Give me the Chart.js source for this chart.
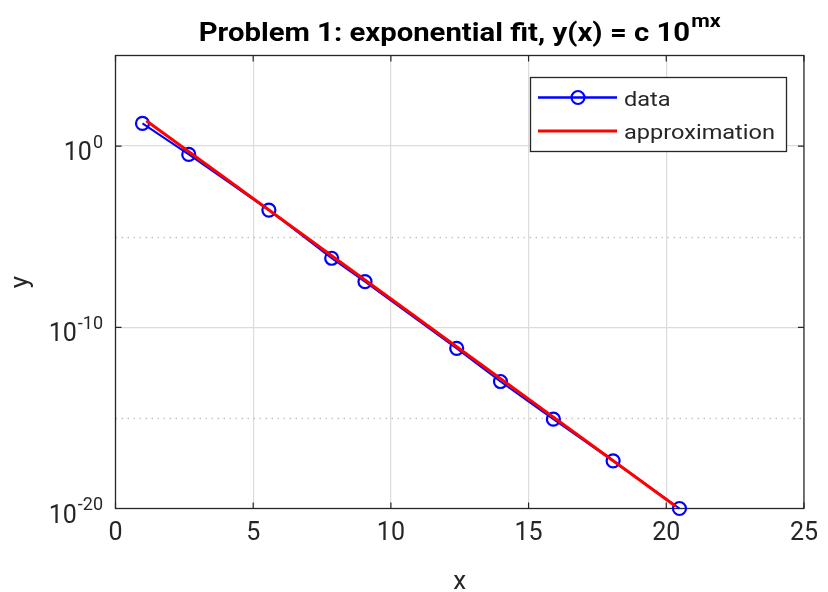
<!DOCTYPE html>
<html>
<head>
<meta charset="utf-8">
<script src="https://cdn.jsdelivr.net/npm/chart.js@4.4.1/dist/chart.umd.min.js"></script>
<style>
body{ margin:0; background:#ffffff; }
</style>
</head>
<body>
<canvas id="graficoAjuste" width="828" height="592"></canvas>
<script>

// datos medidos
const xDatos =
[0.98, 2.66, 5.57, 7.85, 9.06, 12.39, 13.98, 15.90, 18.07, 20.48];

const yDatos =
[17.8, 0.347, 2.95e-4, 6.46e-7, 3.31e-8, 6.92e-12, 1.02e-13, 8.51e-16, 4.27e-18, 1.0e-20];

// recta ajustada (en escala log)
const xAprox =
[1.12, 20.33];

const yAprox =
[25.1, 1.38e-20];

const xTicks =
[0, 5, 10, 15, 20, 25];

// exponentes de las marcas del eje y
const yExpMayores =
[-20, -10, 0];

const yExpMenores =
[-15, -5];

const yExpLimites =
[-20, 5];

const tituloTexto =
"Problem 1: exponential fit, y(x) = c 10";

const tituloSup =
"mx";

const nombres =
["data", "approximation"];

const GRIS = "#262626";

function puntos(xs, ys){
    return xs.map(
        (x, i) => ({ x: x, y: ys[i] })
    );
}

// texto ensanchado horizontalmente
function textoAncho(ctx, texto, x, y, escala){
    ctx.save();
    ctx.translate(x, y);
    ctx.scale(escala, 1);
    ctx.fillText(texto, 0, 0);
    ctx.restore();
}

const dibujoExtra = {

    id: "dibujoExtra",

    beforeDatasetsDraw(chart){

        const ctx = chart.ctx;
        const area = chart.chartArea;
        const ejeX = chart.scales.x;
        const ejeY = chart.scales.y;

        ctx.save();

        // rejilla menor punteada
        ctx.strokeStyle = "#c4c4c4";
        ctx.lineWidth = 1.5;
        ctx.setLineDash([1.5, 4.5]);
        yExpMenores.forEach(e => {
            const py = Math.round(ejeY.getPixelForValue(Math.pow(10, e))) + 0.5;
            ctx.beginPath();
            ctx.moveTo(area.left, py);
            ctx.lineTo(area.right, py);
            ctx.stroke();
        });
        ctx.setLineDash([]);

        // caja de los ejes
        ctx.strokeStyle = GRIS;
        ctx.lineWidth = 1.3;
        ctx.strokeRect(area.left, area.top, area.right - area.left, area.bottom - area.top);

        // marcas hacia dentro
        ctx.lineWidth = 1.2;
        xTicks.forEach(v => {
            const px = ejeX.getPixelForValue(v);
            ctx.beginPath();
            ctx.moveTo(px, area.bottom);
            ctx.lineTo(px, area.bottom - 6);
            ctx.moveTo(px, area.top);
            ctx.lineTo(px, area.top + 6);
            ctx.stroke();
        });
        yExpMayores.forEach(e => {
            const py = ejeY.getPixelForValue(Math.pow(10, e));
            ctx.beginPath();
            ctx.moveTo(area.left, py);
            ctx.lineTo(area.left + 6, py);
            ctx.moveTo(area.right, py);
            ctx.lineTo(area.right - 6, py);
            ctx.stroke();
        });

        ctx.restore();
    },

    afterDraw(chart){

        const ctx = chart.ctx;
        const area = chart.chartArea;
        const ejeY = chart.scales.y;

        ctx.save();
        ctx.fillStyle = GRIS;

        // etiquetas del eje y: 10^e
        yExpMayores.forEach(e => {
            const py = ejeY.getPixelForValue(Math.pow(10, e));
            const derecha = 103;
            ctx.font = "18px Roboto";
            ctx.textAlign = "right";
            ctx.textBaseline = "alphabetic";
            const sup = e < 0 ? "-" + Math.abs(e) : String(e);
            const anchoSup = ctx.measureText(sup).width;
            ctx.fillText(sup, derecha, py + 1.5);
            ctx.font = "25px Roboto";
            ctx.fillText("10", derecha - anchoSup - 1, py + 14);
        });

        // titulos de ejes
        ctx.font = "26px Roboto";
        ctx.textAlign = "center";
        ctx.fillText("x", (area.left + area.right) / 2, 589);

        ctx.save();
        ctx.translate(28, (area.top + area.bottom) / 2);
        ctx.rotate(-Math.PI / 2);
        ctx.fillText("y", 0, 0);
        ctx.restore();

        // titulo con superindice, ajustado al ancho del original
        const anchoTitulo = 522;
        ctx.fillStyle = "#000000";
        ctx.textAlign = "left";
        ctx.font = "bold 26px Roboto";
        const anchoBase = ctx.measureText(tituloTexto).width;
        ctx.font = "bold 19px Roboto";
        const anchoMx = ctx.measureText(tituloSup).width;
        const escala = anchoTitulo / (anchoBase + anchoMx + 1);
        const inicio = (area.left + area.right) / 2 - anchoTitulo / 2;
        ctx.font = "bold 26px Roboto";
        textoAncho(ctx, tituloTexto, inicio, 41, escala);
        ctx.font = "bold 19px Roboto";
        textoAncho(ctx, tituloSup, inicio + (anchoBase + 1) * escala, 27, escala);

        // leyenda
        const cajaX = 530.5, cajaY = 77.5, cajaW = 256, cajaH = 74;
        ctx.fillStyle = "#ffffff";
        ctx.fillRect(cajaX, cajaY, cajaW, cajaH);
        ctx.strokeStyle = GRIS;
        ctx.lineWidth = 1.3;
        ctx.strokeRect(cajaX, cajaY, cajaW, cajaH);

        const sets = chart.data.datasets;

        ctx.strokeStyle = sets[0].borderColor;
        ctx.lineWidth = 2.5;
        ctx.beginPath();
        ctx.moveTo(538, 97.5);
        ctx.lineTo(617, 97.5);
        ctx.stroke();
        ctx.lineWidth = sets[0].pointBorderWidth;
        ctx.beginPath();
        ctx.arc(578, 97.5, sets[0].pointRadius, 0, Math.PI * 2);
        ctx.stroke();

        ctx.strokeStyle = sets[1].borderColor;
        ctx.lineWidth = sets[1].borderWidth;
        ctx.beginPath();
        ctx.moveTo(538, 131);
        ctx.lineTo(617, 131);
        ctx.stroke();

        ctx.fillStyle = GRIS;
        ctx.font = "21px Roboto";
        ctx.textAlign = "left";
        const anchoLeyenda = ctx.measureText(sets[1].label).width;
        const escalaLeyenda = 151 / anchoLeyenda;
        textoAncho(ctx, sets[0].label, 624, 106, escalaLeyenda);
        textoAncho(ctx, sets[1].label, 624, 139, escalaLeyenda);

        ctx.restore();
    }
};

new Chart(

    document.getElementById(
        "graficoAjuste"
    ),

    {

        type:"line",

        data:{

            datasets:[

                {
                    label: nombres[0],
                    data: puntos(xDatos, yDatos),
                    borderColor: "#0000ff",
                    backgroundColor: "rgba(0,0,0,0)",
                    borderWidth: 2,
                    pointRadius: 6.5,
                    pointBorderWidth: 2.2,
                    pointBorderColor: "#0000ff",
                    pointBackgroundColor: "rgba(0,0,0,0)",
                    tension: 0,
                    clip: false,
                    order: 1
                },

                {
                    label: nombres[1],
                    data: puntos(xAprox, yAprox),
                    borderColor: "#ff0000",
                    backgroundColor: "rgba(0,0,0,0)",
                    borderWidth: 3,
                    pointRadius: 0,
                    tension: 0,
                    order: 0
                }

            ]

        },

        options:{

            responsive:false,

            animation:false,

            layout:{
                padding:{ top: 55.5, right: 19, left: 0, bottom: 0 }
            },

            plugins:{
                legend:{ display:false },
                title:{ display:false },
                tooltip:{ enabled:false }
            },

            scales:{

                x:{
                    type:"linear",
                    min: xTicks[0],
                    max: xTicks[xTicks.length - 1],
                    afterFit: s => { s.height = 83.5; },
                    afterBuildTicks: s => {
                        s.ticks = xTicks.map(v => ({ value: v }));
                    },
                    grid:{
                        color: c => (c.tick && c.tick.value > xTicks[0] && c.tick.value < xTicks[xTicks.length - 1]) ? "#dcdcdc" : "rgba(0,0,0,0)",
                        lineWidth: 1.2,
                        drawTicks: false
                    },
                    border:{ display:false },
                    ticks:{
                        color: GRIS,
                        font:{ family:"Roboto", size:25 },
                        padding: 10,
                        maxRotation: 0
                    }
                },

                y:{
                    type:"logarithmic",
                    min: Math.pow(10, yExpLimites[0]),
                    max: Math.pow(10, yExpLimites[1]),
                    afterFit: s => { s.width = 115.5; },
                    afterBuildTicks: s => {
                        s.ticks = yExpMayores.map(e => ({ value: Math.pow(10, e) }));
                    },
                    grid:{
                        color: c => (c.tick && c.tick.value > Math.pow(10, yExpLimites[0])) ? "#dcdcdc" : "rgba(0,0,0,0)",
                        lineWidth: 1.2,
                        drawTicks: false
                    },
                    border:{ display:false },
                    ticks:{ display:false }
                }

            }

        },

        plugins:[ dibujoExtra ]

    }

);

</script>
</body>
</html>
